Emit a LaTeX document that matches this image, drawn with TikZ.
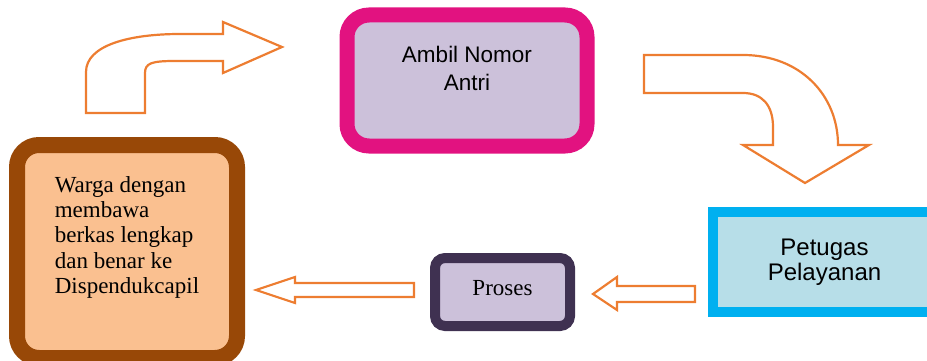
\documentclass[tikz,border=0pt]{standalone}
\usepackage{fontspec}
\setmainfont{Liberation Serif}
\setsansfont{Liberation Sans}
\usepackage{tikz}
\usepackage{xcolor}
\usetikzlibrary{positioning}
\usetikzlibrary{calc}
\usetikzlibrary{shapes,arrows}

\definecolor{wargaborder}{RGB}{152,72,7}
\definecolor{wargafill}{RGB}{250,192,144}
\definecolor{antriborder}{RGB}{226,18,128}
\definecolor{lavender}{RGB}{204,193,218}
\definecolor{prosesborder}{RGB}{63,49,81}
\definecolor{petugasborder}{RGB}{0,176,240}
\definecolor{petugasfill}{RGB}{183,222,232}
\definecolor{arroworange}{RGB}{237,125,49}

\begin{document}
\begin{tikzpicture}[x=1pt, y=-1pt, auto]
% tikz settings
\tikzstyle{block} = [rectangle, draw, text centered, inner sep=0pt]
\tikzstyle{bigarrow} = [draw=arroworange, fill=white, line width=2.2pt, line join=miter]
\useasboundingbox (0,0) rectangle (927,361);

% the tikz picture
\node [block, align=left, draw=wargaborder, fill=wargafill, line width=16pt,
    rounded corners=22pt, minimum width=220pt, minimum height=213pt,
    text depth=33pt, font=\fontsize{23}{25.3}\selectfont] (warga) at (127,251.5)
    {Warga dengan\\ membawa\\ berkas lengkap\\ dan benar ke\\ Dispendukcapil};
\node [block, align=center, draw=antriborder, fill=lavender, line width=15pt,
    rounded corners=22pt, minimum width=240pt, minimum height=131pt,
    text depth=24pt, font=\sffamily\fontsize{22.5}{28.4}\selectfont] (ambilnomor) at (467,80.5)
    {Ambil Nomor\\ Antri};
\node [block, align=center, draw=petugasborder, fill=petugasfill, line width=10pt,
    minimum width=223pt, minimum height=100pt,
    font=\sffamily\fontsize{24}{25.5}\selectfont] (petugas) at (824.5,262)
    {Petugas\\ Pelayanan};
\node [block, draw=prosesborder, fill=lavender, line width=10pt,
    rounded corners=10pt, minimum width=135pt, minimum height=68pt,
    text depth=8pt, font=\fontsize{23}{25}\selectfont] (proses) at (502.5,292)
    {Proses};

% block arrows
\draw [bigarrow] (86,113) -- (145,113) -- (145,73)
    .. controls (145,63) and (152,61) .. (175,61) -- (223,61) -- (223,73)
    -- (282,47) -- (223,22) -- (223,34) -- (180,34)
    .. controls (130,34) and (86,45) .. (86,72) -- cycle;
\draw [bigarrow] (644,55) -- (743,55)
    .. controls (800,55) and (838,95) .. (838,145) -- (869,145)
    -- (805,183) -- (743,145) -- (773,145) -- (773,127)
    .. controls (773,105) and (762,93) .. (743,93) -- (644,93) -- cycle;
\draw [bigarrow] (695,286) -- (617,286) -- (617,277) -- (593,294)
    -- (617,310) -- (617,302) -- (695,302) -- cycle;
\draw [bigarrow] (414,283) -- (295,283) -- (295,277) -- (256,290)
    -- (295,303) -- (295,297) -- (414,297) -- cycle;
\end{tikzpicture}
\end{document}
